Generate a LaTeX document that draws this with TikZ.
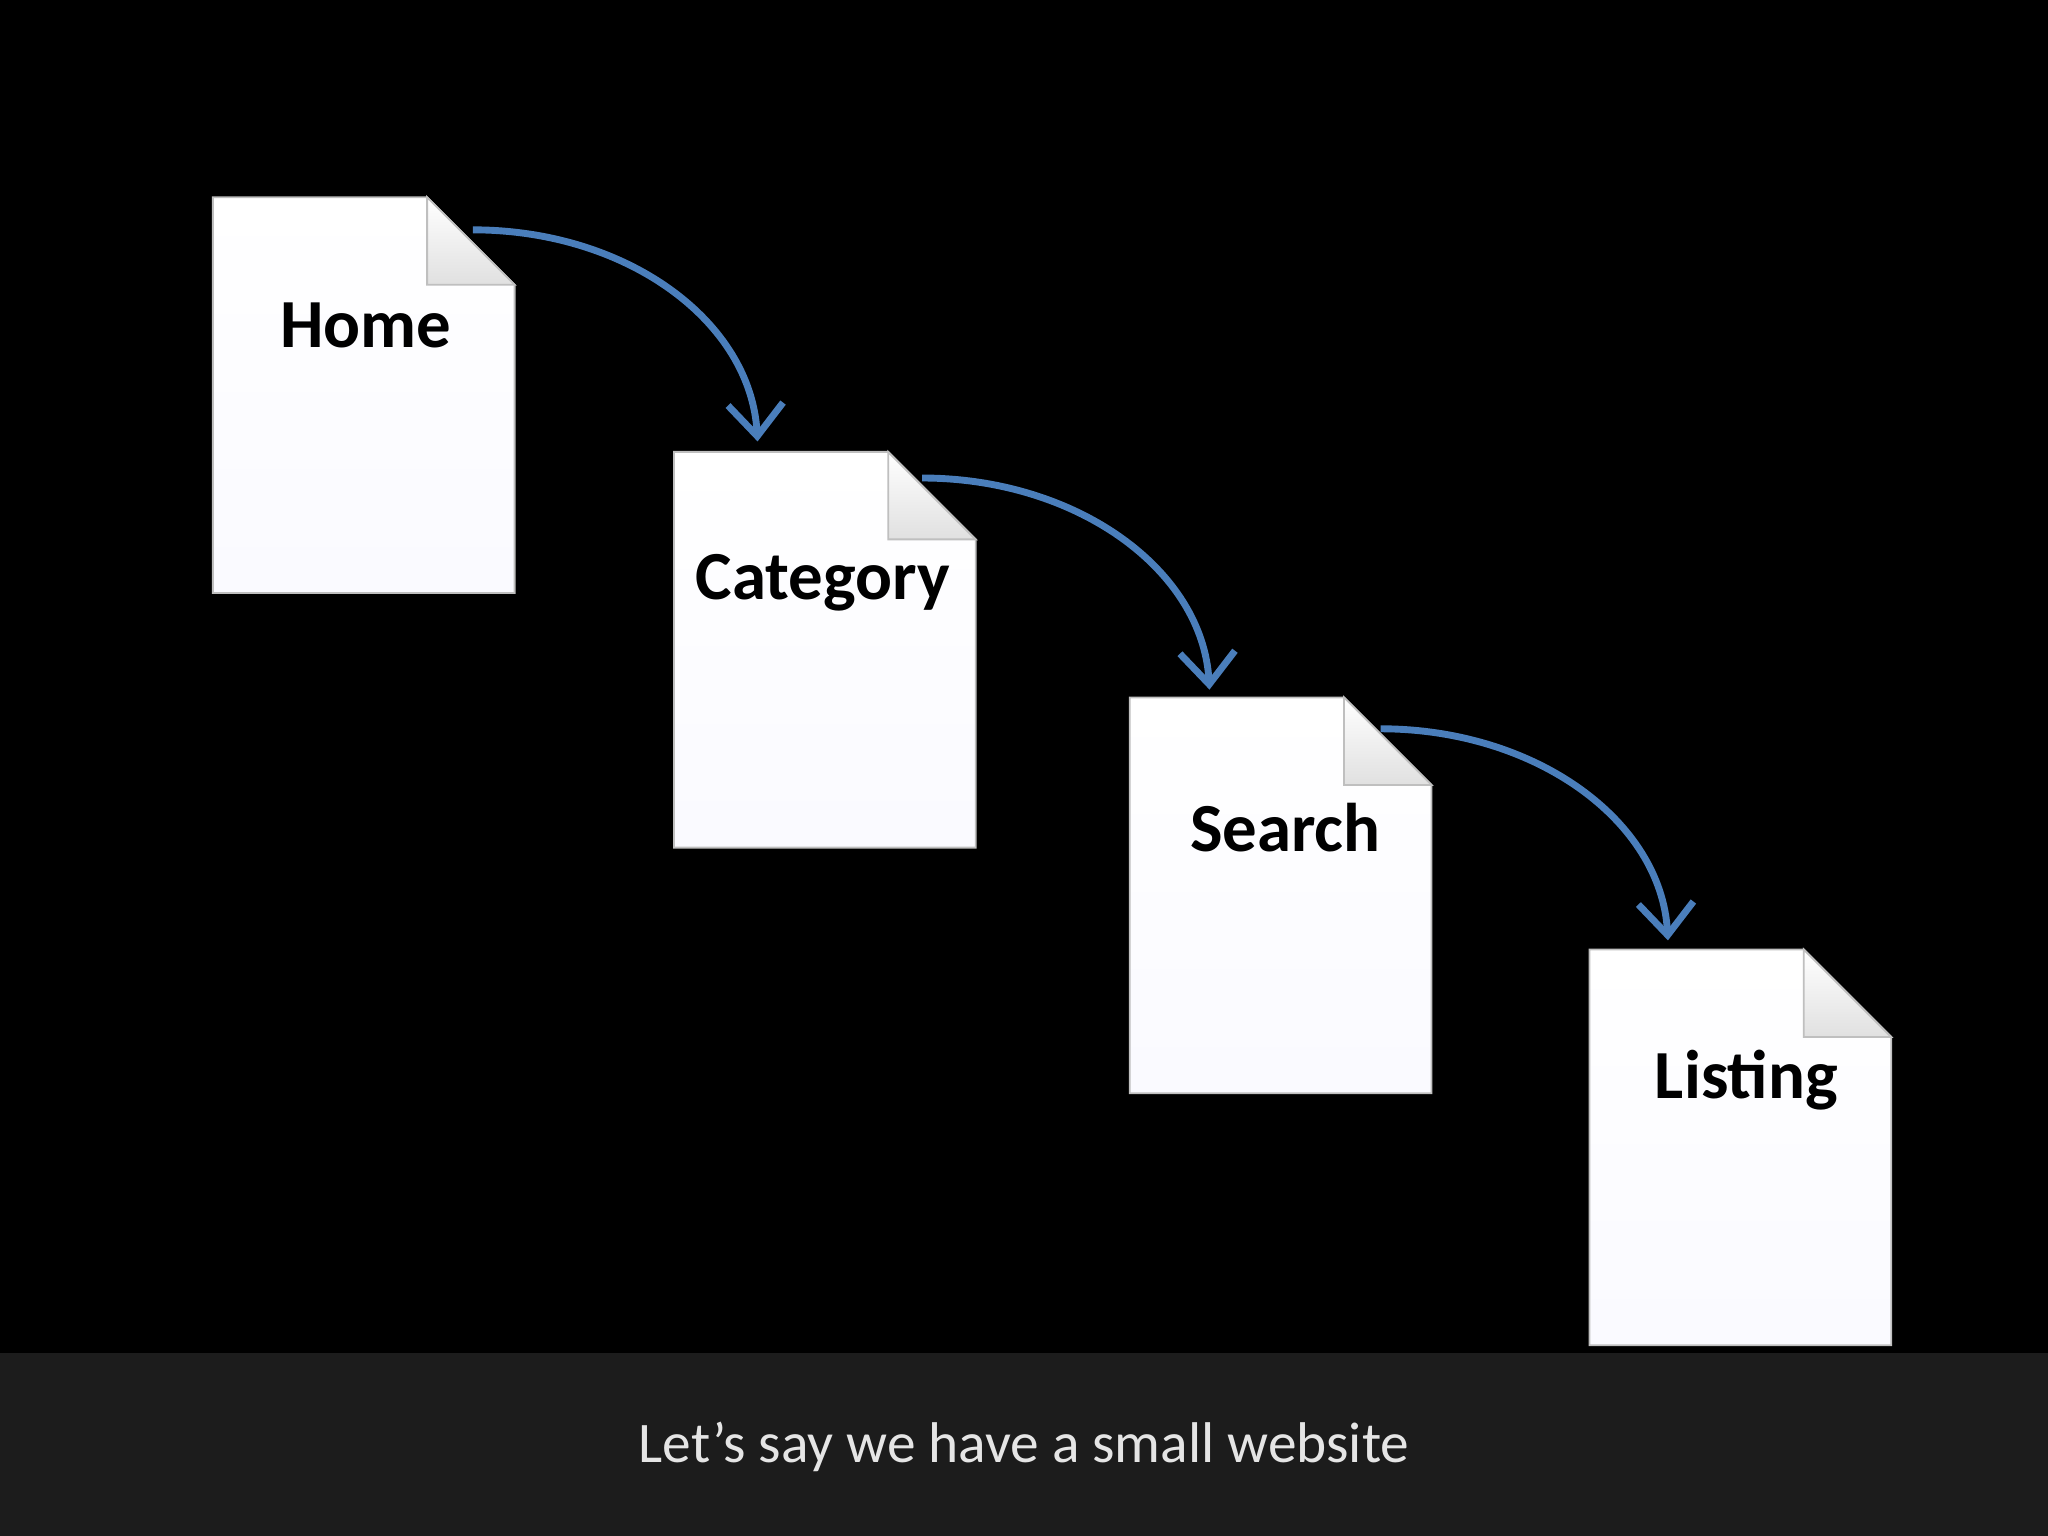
\documentclass[tikz,border=0pt]{standalone}
\usepackage{fontspec}
\setmainfont{Carlito}
\usetikzlibrary{arrows.meta}
\definecolor{arrowblue}{HTML}{4A7EBB}
\definecolor{barcol}{HTML}{1C1C1C}
\tikzset{
  pagefill/.style={top color=white,bottom color=black!3!blue!2!white,draw=black!25,line width=0.4pt},
  foldfill/.style={top color=white,bottom color=black!12,draw=black!25,line width=0.4pt},
  pagelabel/.style={font=\bfseries\fontsize{15}{18}\selectfont,text=black},
  flow/.style={draw=arrowblue,line width=1.5pt,-{Straight Barb[length=7pt,width=12pt,line width=1.5pt]}}
}
\newcommand{\mypage}[3]{% x, y (top-left), name
  \path[pagefill] (#1,#2) -- ++(1.64,0) -- ++(0.67,-0.67) -- ++(0,-2.36) -- ++(-2.31,0) -- cycle;
  \path[foldfill] (#1+1.64,#2) -- ++(0,-0.67) -- ++(0.67,0) -- cycle;
}
\begin{document}
\begin{tikzpicture}
\useasboundingbox (0,0) rectangle (15.68,11.76);
\fill[black] (0,0) rectangle (15.68,11.76);
\fill[barcol] (0,0) rectangle (15.68,1.40);
\node[text=black!10,font=\fontsize{12.5}{15}\selectfont] (cap) at (7.84,0.68) {Let’s say we have a small website};
\mypage{1.63}{10.25}{home}
\mypage{5.16}{8.30}{cat}
\mypage{8.65}{6.42}{search}
\mypage{12.17}{4.49}{list}
\node[pagelabel] (home) at (2.80,9.27) {Home};
\node[pagelabel] (cat) at (6.30,7.30) {Category};
\node[pagelabel] (search) at (9.84,5.42) {Search};
\node[pagelabel] (list) at (13.37,3.49) {Listing};
\coordinate (a1s) at (3.62,10.00); \coordinate (a1e) at (5.80,8.38);
\coordinate (a2s) at (7.06,8.10); \coordinate (a2e) at (9.26,6.48);
\coordinate (a3s) at (10.57,6.18); \coordinate (a3e) at (12.77,4.56);
\draw[flow] (a1s) .. controls (4.80,10.00) and (5.75,9.30) .. (a1e);
\draw[flow] (a2s) .. controls (8.24,8.10) and (9.21,7.40) .. (a2e);
\draw[flow] (a3s) .. controls (11.75,6.18) and (12.72,5.48) .. (a3e);
\end{tikzpicture}
\end{document}
